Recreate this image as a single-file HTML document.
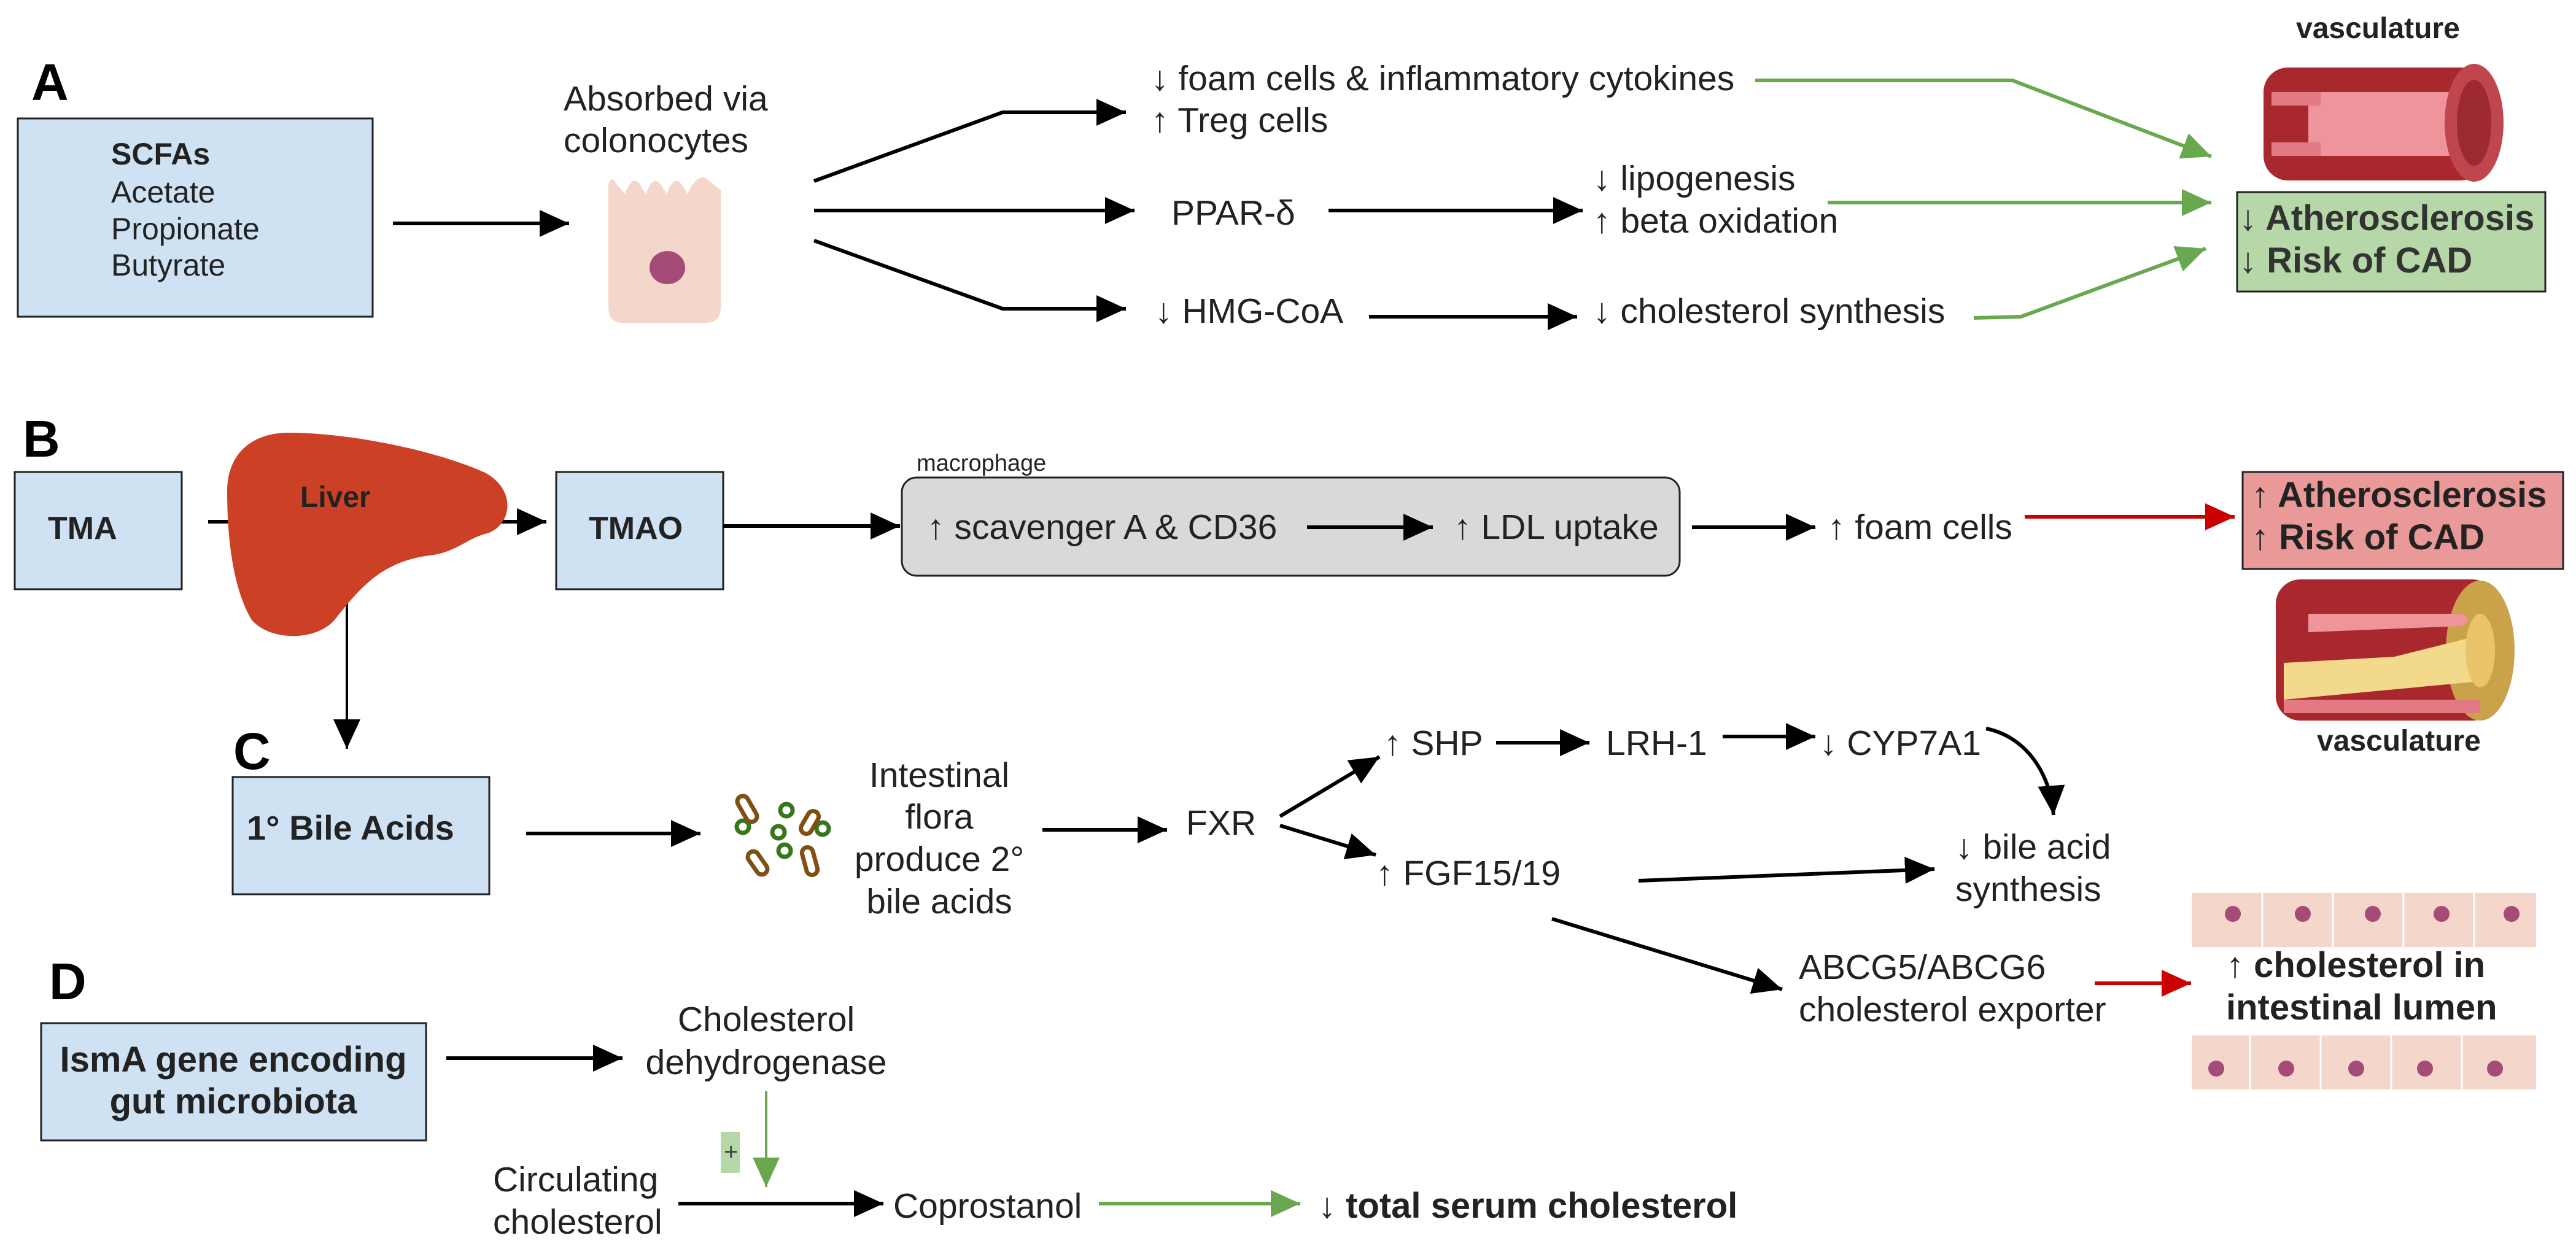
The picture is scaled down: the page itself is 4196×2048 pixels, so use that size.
<!DOCTYPE html>
<html><head><meta charset="utf-8"><style>
html,body{margin:0;padding:0;background:#fff}
svg{display:block}
text{font-family:"Liberation Sans",Arial,sans-serif;fill:#222}
.r{font-size:57px}
.b{font-size:58px;font-weight:bold}
.L{font-size:84px;font-weight:bold;fill:#000}
</style></head><body>
<svg width="4196" height="2048" viewBox="0 0 4196 2048" xmlns="http://www.w3.org/2000/svg">
<defs>
<marker id="k" markerUnits="userSpaceOnUse" markerWidth="50" markerHeight="44" refX="48" refY="22" orient="auto"><path d="M0,0 L48,22 L0,44 z" fill="#000"/></marker>
<marker id="g" markerUnits="userSpaceOnUse" markerWidth="50" markerHeight="44" refX="48" refY="22" orient="auto"><path d="M0,0 L48,22 L0,44 z" fill="#6aa84f"/></marker>
<marker id="rd" markerUnits="userSpaceOnUse" markerWidth="50" markerHeight="44" refX="48" refY="22" orient="auto"><path d="M0,0 L48,22 L0,44 z" fill="#cc0000"/></marker>
</defs>

<!-- boxes -->
<g stroke="#222" stroke-width="3">
<rect x="29" y="193" width="578" height="323" fill="#cfe2f3"/>
<rect x="24" y="769" width="272" height="191" fill="#cfe2f3"/>
<rect x="906" y="769" width="272" height="191" fill="#cfe2f3"/>
<rect x="1469" y="778" width="1267" height="160" rx="24" fill="#d9d9d9"/>
<rect x="3644" y="313" width="502" height="162" fill="#b6d7a8"/>
<rect x="3653" y="769" width="522" height="158" fill="#ea9999"/>
<rect x="379" y="1266" width="418" height="191" fill="#cfe2f3"/>
<rect x="67" y="1667" width="627" height="191" fill="#cfe2f3"/>
</g>
<rect x="1174" y="1844" width="31" height="67" fill="#b6d7a8"/>

<g fill="none" stroke-width="6">
<line x1="640" y1="364" x2="927" y2="364" stroke="#000" marker-end="url(#k)"/>
<polyline points="1326,295 1633,183 1834,183" stroke="#000" marker-end="url(#k)"/>
<line x1="1326" y1="343" x2="1848" y2="343" stroke="#000" marker-end="url(#k)"/>
<polyline points="1326,392 1633,503 1834,503" stroke="#000" marker-end="url(#k)"/>
<line x1="2164" y1="343" x2="2578" y2="343" stroke="#000" marker-end="url(#k)"/>
<line x1="2230" y1="516" x2="2569" y2="516" stroke="#000" marker-end="url(#k)"/>
<polyline points="2859,131 3278,131 3602,255" stroke="#6aa84f" marker-end="url(#g)"/>
<line x1="2977" y1="330" x2="3602" y2="330" stroke="#6aa84f" marker-end="url(#g)"/>
<polyline points="3215,518 3292,516 3593,405" stroke="#6aa84f" marker-end="url(#g)"/>
<line x1="339" y1="850" x2="890" y2="850" stroke="#000" marker-end="url(#k)"/>
<line x1="1178" y1="857" x2="1466" y2="857" stroke="#000" marker-end="url(#k)"/>
<line x1="2129" y1="859" x2="2334" y2="859" stroke="#000" marker-end="url(#k)"/>
<line x1="2756" y1="859" x2="2957" y2="859" stroke="#000" marker-end="url(#k)"/>
<line x1="3298" y1="842" x2="3640" y2="842" stroke="#cc0000" marker-end="url(#rd)"/>
<line x1="565" y1="950" x2="565" y2="1220" stroke="#000" stroke-width="4" marker-end="url(#k)"/>
<line x1="857" y1="1358" x2="1141" y2="1358" stroke="#000" marker-end="url(#k)"/>
<line x1="1698" y1="1352" x2="1901" y2="1352" stroke="#000" marker-end="url(#k)"/>
<line x1="2085" y1="1330" x2="2247" y2="1233" stroke="#000" marker-end="url(#k)"/>
<line x1="2085" y1="1345" x2="2241" y2="1393" stroke="#000" marker-end="url(#k)"/>
<line x1="2437" y1="1210" x2="2589" y2="1210" stroke="#000" marker-end="url(#k)"/>
<line x1="2806" y1="1200" x2="2957" y2="1200" stroke="#000" marker-end="url(#k)"/>
<path d="M3235,1187 C3300,1200 3340,1260 3345,1328" stroke="#000" marker-end="url(#k)"/>
<line x1="2669" y1="1435" x2="3151" y2="1416" stroke="#000" marker-end="url(#k)"/>
<line x1="2528" y1="1497" x2="2903" y2="1612" stroke="#000" marker-end="url(#k)"/>
<line x1="3412" y1="1602" x2="3569" y2="1602" stroke="#cc0000" marker-end="url(#rd)"/>
<line x1="727" y1="1724" x2="1014" y2="1724" stroke="#000" marker-end="url(#k)"/>
<line x1="1248" y1="1778" x2="1248" y2="1934" stroke="#6aa84f" stroke-width="4" marker-end="url(#g)"/>
<line x1="1105" y1="1961" x2="1439" y2="1961" stroke="#000" marker-end="url(#k)"/>
<line x1="1790" y1="1961" x2="2118" y2="1961" stroke="#6aa84f" marker-end="url(#g)"/>
</g>

<!-- liver -->
<path d="M470,705 C560,705 700,730 790,770 C845,800 832,860 790,870 C760,878 742,900 700,905 C620,915 585,960 545,1010 C515,1045 440,1045 410,1010 C380,960 370,880 370,800 C370,740 410,705 470,705 Z" fill="#cc4125"/>

<!-- colonocyte -->
<path d="M991,300 Q996,284 1004,300 L1018,316 Q1030,284 1042,300 L1052,316 Q1064,284 1076,300 L1086,316 Q1098,284 1110,300 L1120,316 Q1134,284 1150,290 L1174,310 L1174,500 Q1174,526 1150,526 L1015,526 Q991,526 991,500 Z" fill="#f4d6cb"/>
<ellipse cx="1087" cy="436" rx="29" ry="27" fill="#a54b78"/>

<!-- bacteria -->
<g fill="none" stroke-width="7">
<circle cx="1210" cy="1347" r="10" stroke="#38761d"/><circle cx="1281" cy="1320" r="10" stroke="#38761d"/>
<circle cx="1268" cy="1356" r="10" stroke="#38761d"/><circle cx="1340" cy="1350" r="10" stroke="#38761d"/>
<circle cx="1278" cy="1386" r="10" stroke="#38761d"/>
<rect x="1208" y="1295" width="18" height="46" rx="9" transform="rotate(-30 1217 1318)" stroke="#7f4f14"/>
<rect x="1310" y="1320" width="18" height="40" rx="9" transform="rotate(30 1319 1340)" stroke="#7f4f14"/>
<rect x="1225" y="1385" width="18" height="42" rx="9" transform="rotate(-35 1234 1406)" stroke="#7f4f14"/>
<rect x="1310" y="1380" width="18" height="46" rx="9" transform="rotate(-15 1319 1403)" stroke="#7f4f14"/>
</g>

<!-- top vessel -->
<g>
<rect x="3687" y="110" width="360" height="184" rx="40" fill="#a8282e"/>
<rect x="3760" y="150" width="300" height="104" fill="#f0949c"/>
<rect x="3700" y="150" width="80" height="22" fill="#e37a83"/>
<rect x="3700" y="232" width="80" height="22" fill="#e37a83"/>
<ellipse cx="4030" cy="200" rx="48" ry="96" fill="#c0464d"/>
<ellipse cx="4030" cy="200" rx="28" ry="70" fill="#9c2a30"/>
</g>
<!-- bottom vessel -->
<g>
<rect x="3707" y="944" width="360" height="230" rx="40" fill="#a8282e"/>
<ellipse cx="4040" cy="1060" rx="56" ry="114" fill="#c9a24a"/>
<path d="M3720,1080 L3900,1070 L4020,1040 L4040,1110 L3720,1140 Z" fill="#f2d98c"/>
<rect x="3720" y="1140" width="320" height="22" fill="#e37a83"/>
<path d="M3760,1000 L4010,1000 Q4030,1010 4010,1020 L3760,1030 Z" fill="#f0949c"/>
<ellipse cx="4040" cy="1060" rx="24" ry="60" fill="#e9c46a"/>
</g>

<!-- intestine -->
<g fill="#f4d6cb">
<rect x="3570" y="1455" width="561" height="88"/>
<rect x="3570" y="1687" width="561" height="88"/>
</g>
<g fill="#a54b78">
<circle cx="3637" cy="1489" r="13"/><circle cx="3751" cy="1489" r="13"/><circle cx="3865" cy="1489" r="13"/><circle cx="3977" cy="1489" r="13"/><circle cx="4091" cy="1489" r="13"/>
<circle cx="3610" cy="1741" r="13"/><circle cx="3724" cy="1741" r="13"/><circle cx="3838" cy="1741" r="13"/><circle cx="3950" cy="1741" r="13"/><circle cx="4064" cy="1741" r="13"/>
</g>
<g stroke="#fff" stroke-width="3">
<line x1="3685" y1="1455" x2="3685" y2="1543"/><line x1="3800" y1="1455" x2="3800" y2="1543"/><line x1="3915" y1="1455" x2="3915" y2="1543"/><line x1="4030" y1="1455" x2="4030" y2="1543"/>
<line x1="3665" y1="1687" x2="3665" y2="1775"/><line x1="3780" y1="1687" x2="3780" y2="1775"/><line x1="3895" y1="1687" x2="3895" y2="1775"/><line x1="4010" y1="1687" x2="4010" y2="1775"/>
</g>

<!-- labels -->
<text class="L" x="51" y="163">A</text>
<text class="L" x="37" y="744">B</text>
<text class="L" x="380" y="1253">C</text>
<text class="L" x="80" y="1628">D</text>

<text class="b" x="181" y="268" style="font-size:50px">SCFAs</text>
<text class="r" x="181" y="330" style="font-size:50px">Acetate</text>
<text class="r" x="181" y="390" style="font-size:50px">Propionate</text>
<text class="r" x="181" y="449" style="font-size:50px">Butyrate</text>

<text class="r" x="918" y="180">Absorbed via</text>
<text class="r" x="918" y="248">colonocytes</text>

<text class="r" x="1875" y="147">↓ foam cells &amp; inflammatory cytokines</text>
<text class="r" x="1875" y="215">↑ Treg cells</text>
<text class="r" x="1908" y="366">PPAR-δ</text>
<text class="r" x="1881" y="526">↓ HMG-CoA</text>
<text class="r" x="2595" y="310">↓ lipogenesis</text>
<text class="r" x="2595" y="379">↑ beta oxidation</text>
<text class="r" x="2595" y="526">↓ cholesterol synthesis</text>

<text class="b" x="3740" y="62" style="font-size:48px">vasculature</text>
<text class="b" x="3647" y="375" style="fill:#333">↓ Atherosclerosis</text>
<text class="b" x="3647" y="444" style="fill:#333">↓ Risk of CAD</text>

<text class="b" x="78" y="878" style="font-size:52px">TMA</text>
<text class="b" x="489" y="826" style="font-size:48px">Liver</text>
<text class="b" x="959" y="878" style="font-size:52px">TMAO</text>
<text class="r" x="1493" y="767" style="font-size:38px">macrophage</text>
<text class="r" x="1510" y="878">↑ scavenger A &amp; CD36</text>
<text class="r" x="2368" y="878">↑ LDL uptake</text>
<text class="r" x="2977" y="878">↑ foam cells</text>
<text class="b" x="3667" y="826" style="fill:#222">↑ Atherosclerosis</text>
<text class="b" x="3667" y="895" style="fill:#222">↑ Risk of CAD</text>
<text class="b" x="3774" y="1223" style="font-size:48px">vasculature</text>

<text class="b" x="402" y="1368" style="font-size:56px">1° Bile Acids</text>
<g text-anchor="middle">
<text class="r" x="1530" y="1282">Intestinal</text>
<text class="r" x="1530" y="1350">flora</text>
<text class="r" x="1530" y="1419">produce 2°</text>
<text class="r" x="1530" y="1488">bile acids</text>
</g>
<text class="r" x="1932" y="1360">FXR</text>
<text class="r" x="2254" y="1230">↑ SHP</text>
<text class="r" x="2616" y="1230">LRH-1</text>
<text class="r" x="2964" y="1230">↓ CYP7A1</text>
<text class="r" x="2241" y="1442">↑ FGF15/19</text>
<text class="r" x="3185" y="1399">↓ bile acid</text>
<text class="r" x="3185" y="1468">synthesis</text>
<text class="r" x="2930" y="1595">ABCG5/ABCG6</text>
<text class="r" x="2930" y="1664">cholesterol exporter</text>
<text class="b" x="3626" y="1592">↑ cholesterol in</text>
<text class="b" x="3626" y="1661">intestinal lumen</text>

<g text-anchor="middle">
<text class="b" x="380" y="1746">IsmA gene encoding</text>
<text class="b" x="380" y="1814">gut microbiota</text>
<text class="r" x="1248" y="1680">Cholesterol</text>
<text class="r" x="1248" y="1750">dehydrogenase</text>
</g>
<text class="r" x="1179" y="1890" style="font-size:40px;fill:#444">+</text>
<text class="r" x="803" y="1941">Circulating</text>
<text class="r" x="803" y="2010">cholesterol</text>
<text class="r" x="1455" y="1984">Coprostanol</text>
<text class="b" x="2147" y="1984">↓ total serum cholesterol</text>
</svg>
</body></html>
